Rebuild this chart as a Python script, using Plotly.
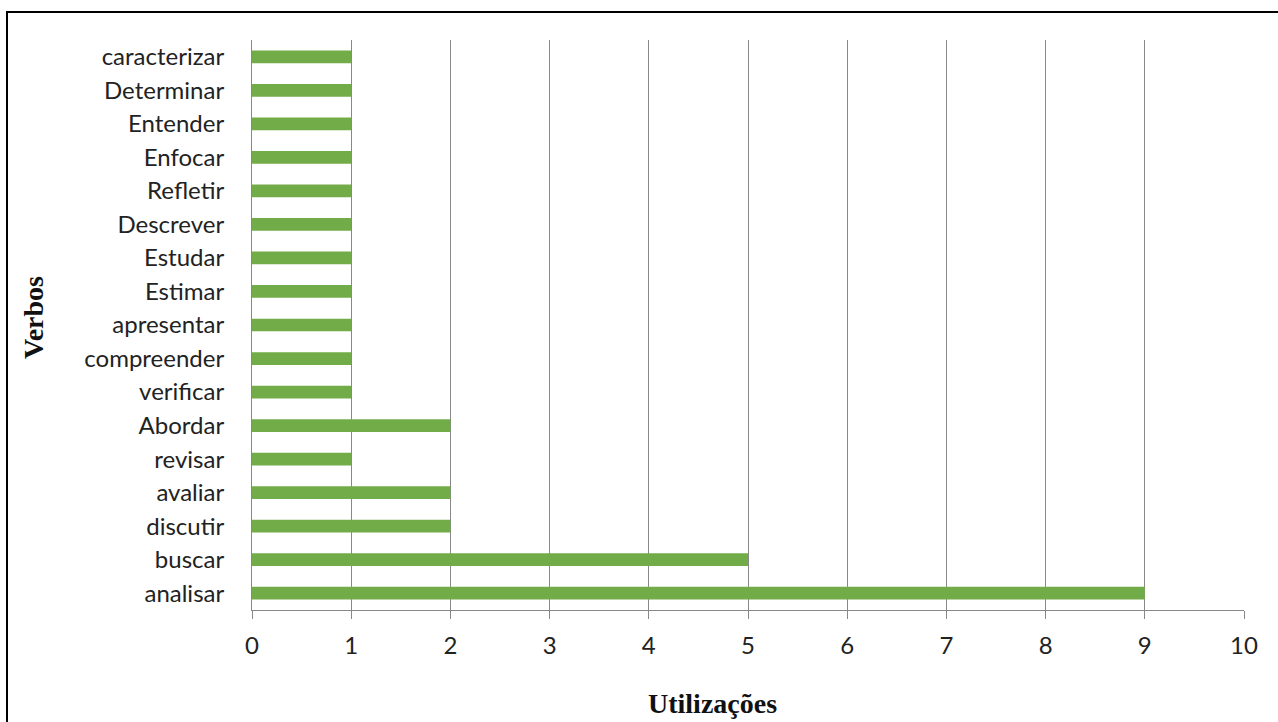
import plotly.graph_objects as go

verbos = ["analisar", "buscar", "discutir", "avaliar", "revisar", "Abordar",
          "verificar", "compreender", "apresentar", "Estimar", "Estudar",
          "Descrever", "Refletir", "Enfocar", "Entender", "Determinar", "caracterizar"]
utilizacoes = [9, 5, 2, 2, 1, 2, 1, 1, 1, 1, 1, 1, 1, 1, 1, 1, 1]
x_ticks = list(range(0, 11))

W, H = 1278, 722
L, R, T, B = 252, 34, 40, 112
pw, ph = W - L - R, H - T - B

fig = go.Figure(go.Bar(
    y=verbos, x=utilizacoes, orientation="h",
    marker=dict(color="#72AC48", line=dict(width=0)),
    width=0.38,
))

fig.update_layout(
    width=W, height=H,
    margin=dict(l=L, r=R, t=T, b=B),
    paper_bgcolor="white", plot_bgcolor="white",
    showlegend=False,
    font=dict(family="Lato, Open Sans, sans-serif", color="#222222"),
    xaxis=dict(
        range=[0, 10], tickvals=x_ticks, ticks="outside", ticklen=8,
        tickcolor="#888888", showgrid=True, gridcolor="#888888", gridwidth=1,
        showline=True, linecolor="#888888", linewidth=1, zeroline=False,
        tickfont=dict(size=24, color="#222222"), ticklabelstandoff=6,
    ),
    yaxis=dict(
        categoryorder="array", categoryarray=verbos,
        range=[-0.5, len(verbos) - 0.5],
        showline=True, linecolor="#888888", linewidth=1, showgrid=False,
        ticks="", tickfont=dict(size=24, color="#222222"), ticklabelstandoff=22,
    ),
    annotations=[
        dict(text="<b>Utilizações</b>", xref="paper", yref="paper",
             x=(712 - L) / pw, y=-(703 - (T + ph)) / ph, showarrow=False,
             xanchor="center", yanchor="middle",
             font=dict(family="Liberation Serif, Times New Roman, serif", size=28, color="#111111")),
        dict(text="<b>Verbos</b>", xref="paper", yref="paper", textangle=-90,
             x=(33 - L) / pw, y=1 - (318 - T) / ph, showarrow=False,
             xanchor="center", yanchor="middle",
             font=dict(family="Liberation Serif, Times New Roman, serif", size=28, color="#111111")),
    ],
    shapes=[
        dict(type="rect", xref="paper", yref="paper",
             x0=(7 - L) / pw, x1=(W + 20 - L) / pw,
             y0=-(H + 20 - (T + ph)) / ph, y1=1 + (T - 12) / ph,
             line=dict(color="black", width=2), fillcolor="rgba(0,0,0,0)", layer="below"),
    ],
)

fig.write_html("out.html")
